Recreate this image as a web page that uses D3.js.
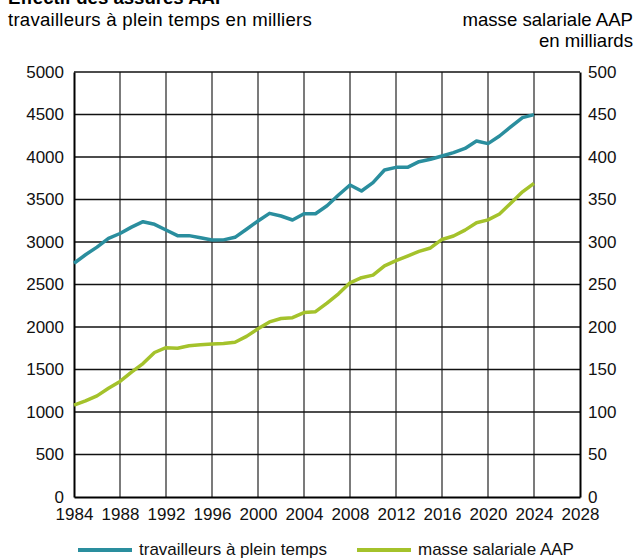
<!DOCTYPE html>
<html>
<head>
<meta charset="utf-8">
<script src="https://cdn.jsdelivr.net/npm/d3@7"></script>
<style>
  body { margin: 0; background: #fff; }
  svg { font-family: "Liberation Sans", Arial, sans-serif; }
</style>
</head>
<body>
<svg id="chart" width="636" height="558"></svg>
<script>
// data
const years = d3.range(1984, 2025);
const workers = [2750, 2850, 2940, 3043, 3100, 3175, 3239, 3208, 3141, 3075,
  3075, 3050, 3024, 3025, 3055, 3150, 3247, 3337, 3306, 3259,
  3333, 3333, 3427, 3553, 3671, 3600, 3698, 3847, 3878, 3878,
  3945, 3973, 4012, 4051, 4101, 4188, 4157, 4247, 4357, 4463, 4498];
const payroll = [108, 113, 119, 128, 136, 147, 157, 170, 175.6, 175,
  178, 179, 180, 180.5, 182, 189, 198, 206, 210, 211,
  217, 218, 228, 239, 252, 258, 261, 272, 278, 283.5,
  289, 293, 303, 307, 314, 322.7, 326, 333, 346, 359, 369];
const xTicks = d3.range(1984, 2029, 4);
const leftTicks = d3.range(0, 5001, 500);
const rightTicks = d3.range(0, 501, 50);

const teal = "#2a8e9e";
const green = "#a4c22b";

const svg = d3.select("#chart");
const plotLeft = 74, plotRight = 580, plotTop = 72, plotBottom = 497;

const x = d3.scaleLinear().domain([1984, 2028]).range([plotLeft, plotRight]);
const yL = d3.scaleLinear().domain([0, 5000]).range([plotBottom, plotTop]);
const yR = d3.scaleLinear().domain([0, 500]).range([plotBottom, plotTop]);

// titles
svg.append("text").attr("x", 8).attr("y", 4)
  .attr("font-size", 18.6).attr("font-weight", "bold")
  .text("Effectif des assurés AAP");
svg.append("text").attr("x", 8).attr("y", 26)
  .attr("font-size", 18.6).attr("letter-spacing", 0.25)
  .text("travailleurs à plein temps en milliers");
svg.append("text").attr("x", 633).attr("y", 26)
  .attr("font-size", 18.6).attr("text-anchor", "end")
  .text("masse salariale AAP");
svg.append("text").attr("x", 633).attr("y", 47)
  .attr("font-size", 18.6).attr("text-anchor", "end")
  .text("en milliards");

// grid
const grid = svg.append("g");
grid.selectAll("line.v")
  .data(xTicks.filter(d => d > 1984 && d < 2028))
  .join("line")
  .attr("x1", d => x(d)).attr("x2", d => x(d))
  .attr("y1", plotTop).attr("y2", plotBottom)
  .attr("stroke", "#5a5a5a").attr("stroke-width", 1.6);
grid.selectAll("line.h")
  .data(leftTicks.filter(d => d > 0))
  .join("line")
  .attr("x1", plotLeft).attr("x2", plotRight)
  .attr("y1", d => yL(d)).attr("y2", d => yL(d))
  .attr("stroke", "#111").attr("stroke-width", 1.4);

// axes
const axL = d3.axisLeft(yL).tickValues(leftTicks).tickSize(0).tickPadding(10).tickFormat(d3.format("d"));
const axR = d3.axisRight(yR).tickValues(rightTicks).tickSize(0).tickPadding(8).tickFormat(d3.format("d"));
const axB = d3.axisBottom(x).tickValues(xTicks).tickSize(0).tickPadding(11).tickFormat(d3.format("d"));

function style(g) {
  g.select(".domain").attr("stroke", "#000").attr("stroke-width", 2);
  g.selectAll("text").attr("font-size", 17).attr("fill", "#111")
    .attr("font-family", "Liberation Sans, Arial, sans-serif");
}
svg.append("g").attr("transform", `translate(${plotLeft},0)`).call(axL).call(style);
svg.append("g").attr("transform", `translate(${plotRight},0)`).call(axR).call(style);
svg.append("g").attr("transform", `translate(0,${plotBottom})`).call(axB).call(style);

// lines
const lineW = d3.line().x((d, i) => x(years[i])).y(d => yL(d));
const lineP = d3.line().x((d, i) => x(years[i])).y(d => yR(d));
svg.append("path").datum(workers).attr("d", lineW)
  .attr("fill", "none").attr("stroke", teal).attr("stroke-width", 3.5)
  .attr("stroke-linejoin", "round");
svg.append("path").datum(payroll).attr("d", lineP)
  .attr("fill", "none").attr("stroke", green).attr("stroke-width", 3.5)
  .attr("stroke-linejoin", "round");

// legend
const legend = [
  {label: "travailleurs à plein temps", color: teal, x0: 78},
  {label: "masse salariale AAP", color: green, x0: 357}
];
const lg = svg.append("g").selectAll("g").data(legend).join("g")
  .attr("transform", d => `translate(${d.x0},550)`);
lg.append("line").attr("x1", 0).attr("x2", 54)
  .attr("stroke", d => d.color).attr("stroke-width", 4);
lg.append("text").attr("x", 61).attr("y", 5)
  .attr("font-size", 17).attr("fill", "#111")
  .text(d => d.label);
</script>
</body>
</html>
